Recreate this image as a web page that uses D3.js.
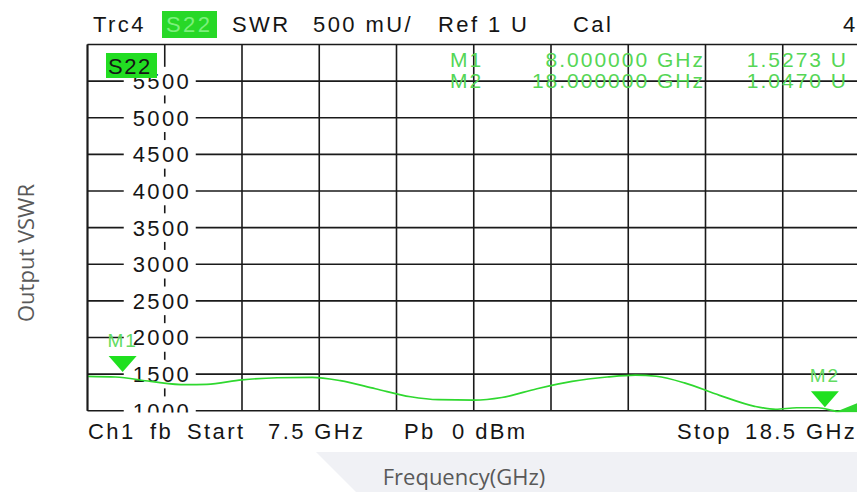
<!DOCTYPE html>
<html>
<head>
<meta charset="utf-8">
<script src="https://cdn.jsdelivr.net/npm/d3@7"></script>
<style>
  body { margin: 0; background: #fff; }
  .vna { font-family: "Liberation Sans", Arial, sans-serif; font-size: 22px; letter-spacing: 2.4px; fill: #151515; }
  .title { font-family: "Open Sans", sans-serif; font-size: 22px; fill: #595959; }
</style>
</head>
<body>
<script>
// Trace (S22 SWR, units U)
var freqGHz = [7.5, 7.9, 8.4, 8.9, 9.2, 9.7, 10.2, 10.7, 11.1, 11.6, 12.1, 12.5, 13.0, 13.4, 13.9, 14.4, 14.9, 15.3, 15.6, 16.0, 16.5, 17.0, 17.3, 17.6, 17.9, 18.2, 18.5];
var swr     = [1.47, 1.46, 1.40, 1.355, 1.36, 1.42, 1.45, 1.455, 1.41, 1.30, 1.19, 1.15, 1.145, 1.18, 1.30, 1.40, 1.46, 1.487, 1.47, 1.38, 1.21, 1.06, 1.02, 1.04, 1.04, 0.99, 1.10];

// Vertical grid (10 divisions, 1.1 GHz each) and SWR grid
var freqGrid = [7.5, 8.6, 9.7, 10.8, 11.9, 13.0, 14.1, 15.2, 16.3, 17.4, 18.5];
var swrGrid = [1.0, 1.5, 2.0, 2.5, 3.0, 3.5, 4.0, 4.5, 5.0, 5.5, 6.0];
var swrLabels = ["1000", "1500", "2000", "2500", "3000", "3500", "4000", "4500", "5000", "5500"];

// Markers
var markerNames = ["M1", "M2"];
var markerFreq = [8.0, 18.0];
var markerSwr = [1.5273, 1.0470];
var markerFreqText = ["8.000000 GHz", "18.000000 GHz"];
var markerSwrText = ["1.5273 U", "1.0470 U"];

// Filled wedge at the bottom right corner of the screen
var wedgeFreq = [18.14, 18.5, 18.5];
var wedgeSwr = [0.98, 1.12, 0.98];

var width = 857, height = 492;
var svg = d3.select(document.body).append("svg").attr("width", width).attr("height", height);

var x = d3.scaleLinear().domain([7.5, 18.5]).range([87.5, 860]);
var y = d3.scaleLinear().domain([1, 6]).range([410.7, 44.5]);
var green = "#2fd82f";

svg.append("clipPath").attr("id", "plot-clip")
  .append("rect").attr("x", 86).attr("y", 43).attr("width", 780).attr("height", 369.5);

// grid
var grid = svg.append("g").attr("clip-path", "url(#plot-clip)");
grid.selectAll(".vline").data(freqGrid).enter().append("line")
  .attr("x1", function(d) { return x(d); }).attr("x2", function(d) { return x(d); })
  .attr("y1", y(6)).attr("y2", y(1))
  .attr("stroke", "#1a1a1a").attr("stroke-width", 1.6);
grid.selectAll(".hline").data(swrGrid).enter().append("line")
  .attr("x1", x(7.5)).attr("x2", x(18.5))
  .attr("y1", function(d) { return y(d); }).attr("y2", function(d) { return y(d); })
  .attr("stroke", "#1a1a1a").attr("stroke-width", 1.6);

// y labels on the 2nd vertical line, with white box that cuts the grid
var labelX = x(8.6) - 4;
var lab = grid.selectAll(".ylab").data(swrLabels).enter().append("g")
  .attr("transform", function(d, i) { return "translate(" + labelX + "," + y(swrGrid[i]) + ")"; });
lab.append("rect").attr("x", -37).attr("y", -14.3).attr("width", 72).attr("height", 28.6).attr("fill", "#fff");
lab.append("text").attr("class", "vna").attr("text-anchor", "middle").attr("dy", "0.36em")
  .attr("dx", 1.2).style("letter-spacing", "2.4px").text(function(d) { return d; });

// trace
var line = d3.line()
  .x(function(d, i) { return x(freqGHz[i]); })
  .y(function(d) { return y(d); })
  .curve(d3.curveMonotoneX);
grid.append("path").datum(swr).attr("d", line)
  .attr("fill", "none").attr("stroke", green).attr("stroke-width", 1.7);

grid.append("path")
  .datum(wedgeSwr)
  .attr("d", d3.line().x(function(d, i) { return x(wedgeFreq[i]); }).y(function(d) { return y(d); }))
  .attr("fill", green);

// marker triangles and names
markerNames.forEach(function(name, i) {
  var mx = x(markerFreq[i]), my = y(markerSwr[i]);
  svg.append("path")
    .attr("d", "M" + (mx - 14) + "," + (my - 16) + "L" + (mx + 14) + "," + (my - 16) + "L" + mx + "," + my + "Z")
    .attr("fill", "#1fe01f");
  svg.append("text").attr("class", "vna").attr("x", mx).attr("y", my - 25)
    .attr("text-anchor", "middle").style("font-size", "19px").style("letter-spacing", "2px")
    .style("fill", "#62dc62").text(name);
});

// marker readout table
markerNames.forEach(function(name, i) {
  var by = 67 + i * 21;
  var t = svg.append("g").attr("class", "vna").style("font-size", "21px").style("letter-spacing", "2px").style("fill", "#55d655");
  t.append("text").attr("x", 450).attr("y", by).text(name);
  t.append("text").attr("x", 705).attr("y", by).attr("text-anchor", "end").text(markerFreqText[i]);
  t.append("text").attr("x", 848).attr("y", by).attr("text-anchor", "end").text(markerSwrText[i]);
});

// S22 tag inside the screen
svg.append("rect").attr("x", 106).attr("y", 53).attr("width", 51).attr("height", 25).attr("fill", "#22dd22");
svg.append("text").attr("class", "vna").attr("x", 108).attr("y", 74).style("letter-spacing", "1.5px").text("S22");

// frame
svg.append("line").attr("x1", x(7.5)).attr("x2", x(7.5)).attr("y1", y(6)).attr("y2", y(1))
  .attr("stroke", "#1a1a1a").attr("stroke-width", 1.8);

// header
var header = svg.append("g").attr("class", "vna");
header.append("rect").attr("x", 162).attr("y", 11).attr("width", 55).attr("height", 27).attr("fill", "#27d827");
header.append("text").attr("x", 93).attr("y", 32).text("Trc4");
header.append("text").attr("x", 166).attr("y", 32).style("fill", "#7cf07c").text("S22");
header.append("text").attr("x", 232).attr("y", 32).text("SWR");
header.append("text").attr("x", 313).attr("y", 32).text("500 mU/");
header.append("text").attr("x", 438).attr("y", 32).text("Ref 1 U");
header.append("text").attr("x", 573).attr("y", 32).text("Cal");
header.append("text").attr("x", 843).attr("y", 32).text("4");

// footer
var footer = svg.append("g").attr("class", "vna");
[["Ch1", 88], ["fb", 150], ["Start", 187], ["7.5 GHz", 268], ["Pb", 404], ["0 dBm", 452], ["Stop", 677], ["18.5 GHz", 745]]
  .forEach(function(p) { footer.append("text").attr("x", p[1]).attr("y", 439).text(p[0]); });

// chart titles
svg.append("path").attr("d", "M316,452L857,452L857,492L356,492Z").attr("fill", "#f0f1f5");
svg.append("text").attr("class", "title").attr("x", 464).attr("y", 485).attr("text-anchor", "middle").text("Frequency(GHz)");
svg.append("text").attr("class", "title").attr("transform", "translate(34,253) rotate(-90)")
  .attr("text-anchor", "middle").text("Output VSWR");
</script>
</body>
</html>
